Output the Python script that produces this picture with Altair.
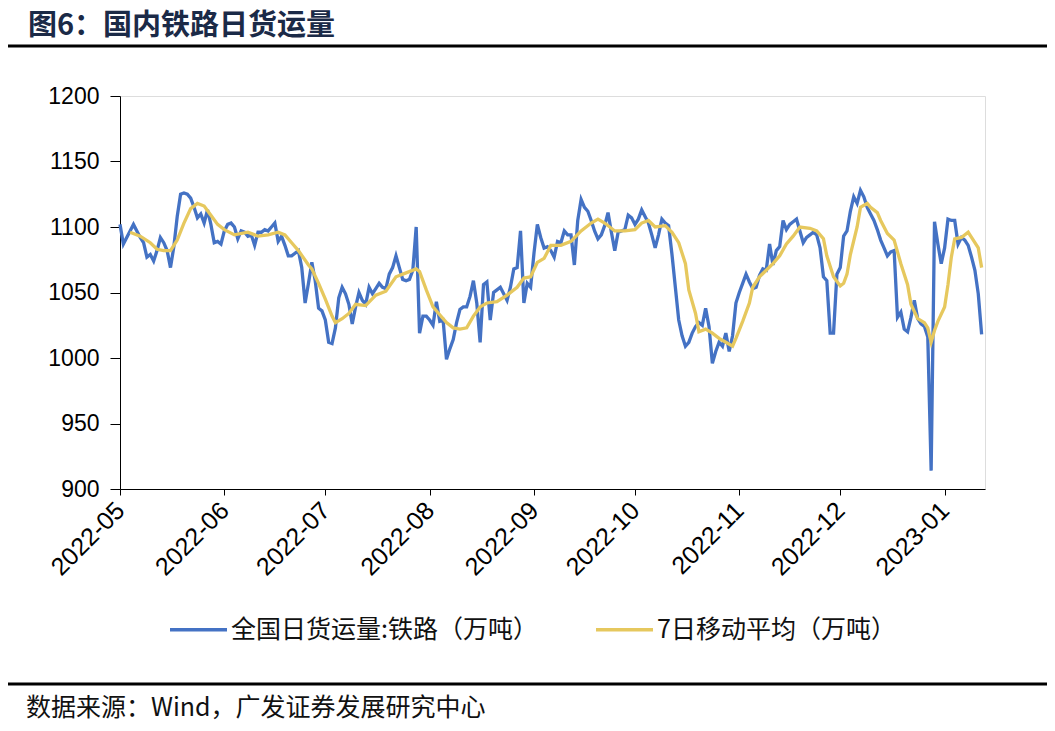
import altair as alt
import pandas as pd

# ---- data ----
start_date = "2022-05-01"
series_names = ["全国日货运量:铁路（万吨）", "7日移动平均（万吨）"]

rail_days = [0, 1, 3, 4, 6, 7, 8, 9, 10, 11, 12, 13, 14, 15, 16, 17, 18, 19, 20, 21, 22, 23, 24, 25, 26, 27, 28, 29,
             30, 31, 32, 33, 34, 35, 36, 37, 38, 39, 40, 41, 42, 43, 44, 45, 46, 47, 48, 49, 50, 51, 52, 53, 54, 55,
             56, 57, 58, 59, 60, 61, 62, 63, 64, 65, 66, 67, 68, 69, 70, 71, 72, 73, 74, 75, 76, 77, 78, 79, 80, 81,
             82, 83, 84, 85, 86, 87, 88, 89, 90, 91, 92, 93, 94, 95, 96, 97, 98, 99, 100, 101, 102, 103, 104, 105,
             106, 107, 108, 109, 110, 111, 112, 113, 114, 115, 116, 117, 118, 119, 120, 121, 122, 123, 124, 125,
             126, 127, 128, 129, 130, 131, 132, 133, 134, 135, 136, 137, 138, 139, 140, 141, 142, 143, 144, 145,
             146, 147, 148, 149, 150, 151, 152, 153, 154, 155, 156, 157, 158, 159, 160, 161, 162, 163, 164, 165,
             166, 167, 168, 169, 170, 171, 172, 173, 174, 175, 176, 177, 178, 179, 180, 181, 182, 183, 184, 185,
             186, 187, 188, 189, 190, 191, 192, 193, 194, 195, 196, 197, 198, 199, 200, 201, 202, 203, 204, 205,
             206, 207, 208, 209, 210, 211, 212, 213, 214, 215, 216, 217, 218, 219, 220, 221, 222, 223, 224, 225,
             226, 227, 228, 229, 230, 231, 232, 233, 234, 235, 236, 237, 238, 239, 240, 241, 242, 243, 244, 245,
             246, 247, 248, 249, 250, 251, 252, 253, 254, 255, 256]
rail_values = [1102, 1087, 1097, 1102, 1092, 1088, 1077, 1079, 1074, 1082, 1092, 1088, 1082, 1069, 1085, 1108, 1125,
               1126, 1125, 1122, 1115, 1107, 1110, 1103, 1113, 1102, 1088, 1089,
               1087, 1097, 1102, 1103, 1100, 1091, 1097, 1096, 1093, 1094, 1086, 1096, 1096, 1098, 1097, 1100, 1103,
               1089, 1093, 1086, 1078, 1078, 1080, 1082, 1069, 1042,
               1057, 1073, 1059, 1038, 1036, 1029, 1012, 1011, 1023, 1046, 1054, 1049, 1041, 1026, 1039, 1050, 1044,
               1041, 1054, 1049, 1053, 1057, 1054, 1053, 1064, 1069,
               1078, 1069, 1060, 1059, 1060, 1067, 1100, 1019, 1032, 1032, 1029, 1025, 1043, 1028, 1029, 999, 1007,
               1014, 1027, 1037, 1039, 1039, 1047, 1059,
               1042, 1012, 1056, 1058, 1029, 1050, 1052, 1054, 1049, 1044, 1054, 1068, 1069, 1097, 1042, 1057, 1054,
               1080, 1102, 1092,
               1084, 1085, 1082, 1077, 1089, 1088, 1097, 1094, 1094, 1071, 1105, 1121, 1115, 1112, 1105, 1097, 1091,
               1094, 1101, 1111,
               1096, 1082, 1096, 1097, 1098, 1109, 1107, 1102, 1106, 1113, 1108, 1103, 1094, 1084, 1094, 1106, 1103,
               1101, 1079, 1054,
               1029, 1017, 1009, 1012, 1019, 1024, 1027, 1025, 1038, 1024, 996, 1005, 1012, 1009, 1019, 1005, 1017,
               1042, 1050, 1057,
               1064, 1058, 1053, 1054, 1063, 1068, 1067, 1087, 1071, 1082, 1085, 1105, 1098, 1102, 1104, 1106, 1097,
               1088, 1092, 1094,
               1096, 1094, 1084, 1062, 1059, 1019, 1019, 1064, 1069, 1093, 1097, 1112, 1123, 1118, 1128, 1123, 1115,
               1110, 1105, 1098,
               1090, 1084, 1078, 1081, 1082, 1031, 1035, 1022, 1020, 1031, 1044, 1030, 1026, 1024, 1016, 914, 1104,
               1087, 1072, 1084,
               1106, 1105, 1105, 1087, 1092, 1090, 1086, 1077, 1067, 1049, 1018]

ma_days = [3, 6, 9, 11, 13, 15, 17, 19, 21, 23, 25, 27, 29, 31, 34, 38, 41, 44, 47, 49, 51, 53, 56, 57, 59, 61, 63,
           64, 66, 68, 70, 73, 76, 79, 82, 85, 88, 89, 91, 93, 95, 97, 99, 101, 103, 105, 107, 109, 112, 115, 118,
           120, 122, 124, 126, 128, 131, 134, 137, 140, 142, 144, 147, 150, 153, 155, 157, 159, 162, 164, 166, 168,
           169, 171, 172, 174, 176, 178, 180, 182, 183, 185, 187, 188, 190, 192, 194, 196, 198, 200, 202, 205, 207,
           209, 210, 212, 214, 215, 216, 217, 219, 220, 222, 223, 225, 226, 228, 230, 232, 234, 235, 237, 239, 240,
           241, 242, 243, 245, 246, 247, 248, 250, 252, 253, 255, 256]
ma_values = [1096, 1093, 1088, 1083, 1082, 1082, 1090, 1103, 1114, 1118, 1116, 1109, 1102, 1098, 1094, 1096, 1093,
             1094, 1096, 1094, 1088, 1082, 1071, 1068, 1057, 1045, 1032, 1027, 1030, 1034, 1041, 1040, 1048, 1051,
             1062, 1065, 1068, 1066, 1052, 1039, 1033, 1027, 1023, 1022, 1023, 1032, 1039, 1042, 1043, 1048, 1054,
             1061, 1062, 1073, 1076, 1086, 1086, 1089, 1097, 1103, 1106, 1103, 1097, 1097, 1098, 1103, 1105, 1100,
             1101, 1096, 1088, 1072, 1052, 1034, 1020, 1022, 1019, 1015, 1012, 1009, 1015, 1028, 1042, 1054, 1062,
             1067, 1072, 1078, 1087, 1093, 1100, 1099, 1097, 1091, 1078, 1062, 1055, 1057, 1064, 1079, 1100, 1115,
             1118, 1115, 1111, 1105, 1095, 1090, 1072, 1056, 1041, 1030, 1027, 1023, 1012, 1021, 1028, 1039, 1056,
             1077, 1091, 1092, 1096, 1092, 1084, 1069]

y_ticks = [900, 950, 1000, 1050, 1100, 1150, 1200]
month_ticks = [(2022, 5), (2022, 6), (2022, 7), (2022, 8), (2022, 9), (2022, 10), (2022, 11), (2022, 12), (2023, 1)]

title_text = "图6：国内铁路日货运量"
source_text = "数据来源：Wind，广发证券发展研究中心"

# ---- table ----
base = pd.Timestamp(start_date)
df = pd.concat([
    pd.DataFrame({"date": (base + pd.to_timedelta(rail_days, unit="D")).strftime("%Y-%m-%d"),
                  "value": rail_values, "series": series_names[0], "order": 0}),
    pd.DataFrame({"date": (base + pd.to_timedelta(ma_days, unit="D")).strftime("%Y-%m-%d"),
                  "value": ma_values, "series": series_names[1], "order": 1}),
])

CJK = "Noto Sans CJK SC"
NUM = "Liberation Sans"
W, H = 865, 393

x_enc = alt.X("date:T",
              scale=alt.Scale(type="utc",
                              domain=[alt.DateTime(year=2022, month=5, date=1, utc=True),
                                      alt.DateTime(year=2023, month=1, date=13, utc=True)]),
              axis=alt.Axis(values=[alt.DateTime(year=y, month=m, date=1, utc=True) for y, m in month_ticks],
                            labelExpr="utcFormat(datum.value, '%Y-%m')", labelAngle=-45, labelAlign="right",
                            labelBaseline="middle", labelPadding=11, tickSize=6, grid=False, title=None,
                            labelFont=NUM, labelFontSize=25, labelColor="#000", domainColor="#000",
                            tickColor="#000", labelOverlap=False, labelBound=False, labelFlush=False))
y_enc = alt.Y("value:Q",
              scale=alt.Scale(domain=[900, 1200], nice=False, zero=False),
              axis=alt.Axis(values=y_ticks, format="d", tickSize=10, grid=False, title=None, labelPadding=11,
                            labelFont=NUM, labelFontSize=23, labelColor="#000", domainColor="#000",
                            tickColor="#000"))

lines = alt.Chart(df).mark_line(strokeWidth=3.3, interpolate="linear").encode(
    x=x_enc,
    y=y_enc,
    color=alt.Color("series:N",
                    scale=alt.Scale(domain=series_names, range=["#4472C4", "#E6C85E"]),
                    legend=alt.Legend(orient="none", legendX=48, legendY=503, direction="horizontal",
                                      title=None, symbolType="stroke", symbolSize=3249,
                                      symbolStrokeWidth=3.5, labelFont=CJK, labelFontSize=25,
                                      labelColor="#111", labelOffset=2, columnPadding=51,
                                      padding=0, labelLimit=600)),
    order=alt.Order("order:Q"),
)

title_df = pd.DataFrame({"t": [title_text]})
source_df = pd.DataFrame({"t": [source_text]})
rule_df = pd.DataFrame({"k": [0]})

title = alt.Chart(title_df).mark_text(font=CJK, fontSize=29, fontWeight="bold", color="#1B2A47",
                                      align="left", baseline="middle").encode(
    x=alt.value(-92), y=alt.value(-70), text="t:N")
source = alt.Chart(source_df).mark_text(font=CJK, fontSize=25, color="#111",
                                        align="left", baseline="middle").encode(
    x=alt.value(-94), y=alt.value(612), text="t:N")
top_rule = alt.Chart(rule_df).mark_rule(color="#000", strokeWidth=3).encode(
    x=alt.value(-112), x2=alt.value(927), y=alt.value(-50))
bottom_rule = alt.Chart(rule_df).mark_rule(color="#000", strokeWidth=3).encode(
    x=alt.value(-112), x2=alt.value(927), y=alt.value(588))

chart = alt.layer(lines, title, source, top_rule, bottom_rule).properties(
    width=W, height=H,
    autosize=alt.AutoSizeParams(type="none"),
    padding={"left": 112, "top": 88, "right": 62, "bottom": 234},
).configure_view(stroke=None).configure(background="white")

chart.save("out.html", embed_options={"renderer": "svg", "actions": False})
